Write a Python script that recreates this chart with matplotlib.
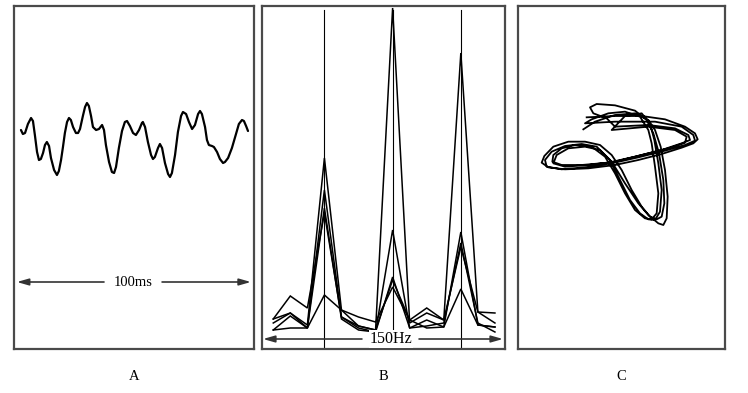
import matplotlib
matplotlib.use("Agg")
import matplotlib.pyplot as plt

plt.rcParams['font.family'] = ['Liberation Serif', 'DejaVu Serif']

# ---------------- Panel A: EEG-like waveform (time in ms, amplitude a.u.) ----------------
a_time = [2.5, 3.3, 4.2, 5.4, 6.7, 7.5, 8.3, 9.2, 10.0, 10.8, 11.7, 12.5, 13.3, 14.2, 15.0, 16.3,
          17.5, 18.3, 19.2, 20.0, 20.8, 21.7, 22.5, 23.3, 24.2, 25.4, 26.3, 27.1, 28.3, 29.2, 30.0,
          30.8, 31.7, 32.5, 33.8, 35.0, 36.3, 37.1, 37.9, 39.2, 40.4, 41.3, 42.1, 43.3, 44.6, 45.8,
          46.7, 47.9, 49.2, 50.4, 51.7, 52.9, 53.3, 54.2, 55.4, 56.7, 57.5, 58.3, 59.6, 60.4, 61.3,
          62.5, 63.8, 64.6, 65.4, 66.7, 67.9, 69.2, 70.0, 71.3, 72.5, 73.8, 75.0, 76.3, 77.1, 77.9,
          79.2, 80.0, 80.8, 82.1, 82.9, 84.2, 85.4, 86.7, 87.5, 88.8, 90.4, 92.1, 93.3, 94.6, 95.4,
          96.3, 97.1]
a_amp = [10, 6, 7, 16, 22, 19, 5, -12, -20, -19, -13, -5, -2, -6, -18, -30,
         -35, -31, -20, -7, 7, 18, 22, 20, 13, 7, 7, 11, 24, 33, 37,
         34, 24, 13, 10, 11, 15, 10, -5, -22, -32, -33, -27, -8, 9, 18,
         19, 14, 7, 5, 10, 17, 18, 13, -2, -15, -19, -17, -8, -4, -8,
         -23, -34, -37, -33, -15, 8, 24, 28, 26, 18, 11, 15, 26, 29, 26,
         13, 0, -5, -6, -7, -12, -19, -23, -22, -18, -8, 6, 16, 20, 19,
         14, 9]
a_span_label = "100ms"

# ---------------- Panel B: spectra (frequency bins, amplitude a.u.) ----------------
b_bins = list(range(14))
b_spectra = [
    [30, 36, 24, 191, 39, 23, 19, 341, 26, 36, 29, 296, 37, 26],
    [26, 36, 21, 159, 32, 21, 17, 119, 21, 29, 22, 117, 24, 22],
    [19, 33, 21, 141, 30, 19, 17, 72, 21, 23, 26, 106, 26, 17],
    [30, 53, 41, 136, 32, 23, 19, 69, 29, 41, 29, 102, 37, 36],
    [19, 21, 21, 54, 39, 32, 27, 62, 29, 21, 22, 60, 24, 22],
]
b_marker_bins = [3, 7, 11]
b_span_label = "150Hz"

# ---------------- Panel C: phase-plane trajectory (a.u., y downward) ----------------
c_x = [215, 300, 380, 450, 510, 540, 548, 535, 500, 440, 370, 300, 220, 150, 100, 80, 88, 115,
       160, 210, 255, 290, 320, 350, 380, 405, 425, 440, 448, 445, 432, 415, 395, 360, 300, 245,
       225, 235, 275,
       300, 400, 480, 520, 525, 500, 440, 360, 280, 200, 140, 112, 115, 140, 180, 230, 270, 300,
       330, 360, 390, 410, 425, 430, 420, 410, 400, 375, 330, 280, 230, 210,
       300, 420, 500, 535, 540, 510, 450, 370, 290, 210, 140, 95, 90, 110, 150, 200, 245, 285,
       315, 345, 375, 400, 420, 435, 440, 430, 418, 405, 380, 330, 290,
       400, 480, 515, 510, 460, 380, 300, 220, 150, 115, 125, 160, 210, 255, 290, 330, 370, 400,
       430, 445, 455, 458, 450, 437, 420, 400, 360, 300, 240, 205]
c_y = [112, 108, 108, 118, 140, 160, 178, 190, 203, 222, 240, 255, 265, 268, 262, 248, 228, 200,
       185, 185, 195, 225, 270, 330, 380, 410, 418, 410, 370, 300, 220, 160, 120, 92, 76, 72,
       82, 100, 115,
       140, 135, 145, 165, 180, 190, 210, 230, 248, 255, 255, 245, 225, 205, 195, 200, 230, 280,
       340, 390, 415, 418, 400, 340, 260, 190, 150, 110, 95, 100, 118, 130,
       125, 125, 140, 165, 182, 195, 212, 232, 250, 262, 268, 260, 240, 215, 198, 192, 200, 240,
       300, 360, 400, 418, 420, 395, 330, 250, 180, 130, 100, 108, 150,
       140, 150, 170, 188, 205, 225, 245, 255, 260, 250, 225, 205, 200, 210, 245, 310, 370, 405,
       430, 435, 415, 350, 270, 200, 150, 120, 100, 105, 125, 148]

panel_labels = ["A", "B", "C"]

W, H = 748, 393
fig = plt.figure(figsize=(W / 100, H / 100), dpi=100)


def px_axes(x0, x1, y0, y1):
    return fig.add_axes([x0 / W, 1 - y1 / H, (x1 - x0) / W, (y1 - y0) / H])


frame_color = '#4a4a4a'


def style(ax):
    ax.set_xticks([])
    ax.set_yticks([])
    for s in ax.spines.values():
        s.set_color(frame_color)
        s.set_linewidth(1.6)


# Panel A
axA = px_axes(14, 254, 6, 349)
style(axA)
axA.plot(a_time, a_amp, color='black', lw=1.6, solid_joinstyle='round', solid_capstyle='round')
axA.set_xlim(-0.4, 99.6)
axA.set_ylim(-209, 134)
arrow_y = -142
for start, end in [(37.1, 0.8), (61.3, 98.3)]:
    axA.annotate('', xy=(end, arrow_y), xytext=(start, arrow_y),
                 arrowprops=dict(arrowstyle='-|>,head_length=0.7,head_width=0.2', color='#333333', lw=1.2,
                                 shrinkA=0, shrinkB=0))
axA.text(49.2, arrow_y, a_span_label, ha='center', va='center', fontsize=10.5)

# Panel B
axB = px_axes(262, 505, 6, 349)
style(axB)
for s in b_spectra:
    axB.plot(b_bins, s, color='black', lw=1.1, solid_joinstyle='miter')
for b in b_marker_bins:
    axB.plot([b, b], [0, 339], color='black', lw=0.8)
axB.set_xlim(-0.66, 13.59)
axB.set_ylim(0, 343)
arrow_yb = 10
for start, end in [(5.2, -0.6), (8.55, 13.47)]:
    axB.annotate('', xy=(end, arrow_yb), xytext=(start, arrow_yb),
                 arrowprops=dict(arrowstyle='-|>,head_length=0.7,head_width=0.2', color='#333333', lw=1.2,
                                 shrinkA=0, shrinkB=0))
axB.text(6.9, arrow_yb, b_span_label, ha='center', va='center', fontsize=11.5,
         bbox=dict(facecolor='white', edgecolor='none', pad=0.5))

# Panel C
axC = px_axes(518, 725, 6, 349)
style(axC)
axC.plot(c_x, c_y, color='black', lw=1.3, solid_joinstyle='round')
axC.set_xlim(9, 630)
axC.set_ylim(807, -222)

# panel labels
for lab, cx in zip(panel_labels, [134, 383.5, 621.5]):
    fig.text(cx / W, 1 - 376 / H, lab, ha='center', va='center', fontsize=10.5)

fig.savefig('out.png', dpi=100)
